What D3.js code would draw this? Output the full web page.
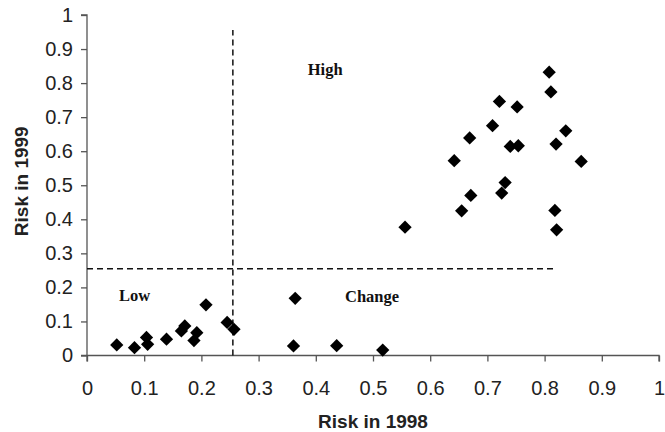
<!DOCTYPE html>
<html><head><meta charset="utf-8">
<script src="https://cdn.jsdelivr.net/npm/d3@7"></script>
<style>body{margin:0;background:#fff}svg{display:block}</style>
</head><body>
<svg id="c" width="665" height="432"></svg>
<script>
const risk1998 = [0.052,0.083,0.104,0.106,0.139,0.165,0.171,0.192,0.187,0.208,0.245,0.257,
  0.364,0.361,0.4365,0.517,0.556,
  0.808,0.811,0.721,0.752,0.709,0.669,0.837,0.740,0.754,0.820,0.642,0.864,0.731,0.725,0.671,0.655,0.818,0.821];
const risk1999 = [0.031,0.023,0.053,0.033,0.048,0.072,0.087,0.067,0.044,0.149,0.097,0.077,
  0.168,0.028,0.029,0.016,0.377,
  0.832,0.774,0.746,0.730,0.675,0.639,0.660,0.614,0.616,0.621,0.572,0.570,0.508,0.477,0.470,0.425,0.426,0.369];
const tickValues = [0,0.1,0.2,0.3,0.4,0.5,0.6,0.7,0.8,0.9,1];
const cutoff = 0.255;
const regionLabels = ["High","Low","Change"];
const regionX = [0.386,0.056,0.451];
const regionY = [0.824,0.16,0.157];

const svg = d3.select("#c");
const x = d3.scaleLinear().domain([0,1]).range([87,659]);
const y = d3.scaleLinear().domain([0,1]).range([355.5,15]);
const fmt = d => d===0?"0":d===1?"1":d3.format(".1f")(d);
const axisColor = "#555";

const gx = svg.append("g").attr("transform",`translate(0,${y(0)})`)
  .call(d3.axisBottom(x).tickValues(tickValues).tickFormat(fmt).tickSize(6).tickPadding(19));
const gy = svg.append("g").attr("transform",`translate(${x(0)},0)`)
  .call(d3.axisLeft(y).tickValues(tickValues).tickFormat(fmt).tickSize(6).tickPadding(8));
[gx,gy].forEach(g=>{
  g.selectAll("path,line").attr("stroke",axisColor).attr("stroke-width",1.3);
  g.selectAll("text").attr("font-family","Liberation Sans, Arial, sans-serif").attr("font-size",20).attr("fill","#222");
});
gx.select(".domain").attr("d",`M${x(0)},6V0H${x(1)}V6`);
gy.select(".domain").attr("d",`M-6,${y(1)}H0V${y(0)}H-6`);

// cutoff lines
svg.append("line").attr("x1",x(0)).attr("x2",x(0.815)).attr("y1",y(cutoff)).attr("y2",y(cutoff))
  .attr("stroke","#111").attr("stroke-width",1.5).attr("stroke-dasharray","6,4");
svg.append("line").attr("x1",x(cutoff)).attr("x2",x(cutoff)).attr("y1",y(0)).attr("y2",y(0.956))
  .attr("stroke","#111").attr("stroke-width",1.5).attr("stroke-dasharray","6,4");

// points
const sym = d3.symbol().type(d3.symbolSquare).size(88);
svg.append("g").selectAll("path").data(risk1998.map((v,i)=>[v,risk1999[i]])).join("path")
  .attr("d",sym).attr("fill","#000")
  .attr("transform",d=>`translate(${x(d[0])},${y(d[1])}) rotate(45)`);

// region labels
svg.append("g").selectAll("text").data(regionLabels).join("text")
  .attr("x",(d,i)=>x(regionX[i])).attr("y",(d,i)=>y(regionY[i]))
  .attr("font-family","Liberation Serif, Times New Roman, serif").attr("font-weight","bold")
  .attr("font-size",16.5).attr("fill","#111").text(d=>d);

// titles
svg.append("text").attr("x",(x(0)+x(1))/2).attr("y",428).attr("text-anchor","middle")
  .attr("font-family","Liberation Sans, Arial, sans-serif").attr("font-weight","bold").attr("font-size",19)
  .attr("fill","#222").text("Risk in 1998");
svg.append("text").attr("transform",`translate(28,${(y(0)+y(1))/2 - 4}) rotate(-90)`).attr("text-anchor","middle")
  .attr("font-family","Liberation Sans, Arial, sans-serif").attr("font-weight","bold").attr("font-size",19)
  .attr("fill","#222").text("Risk in 1999");
</script>
</body></html>
